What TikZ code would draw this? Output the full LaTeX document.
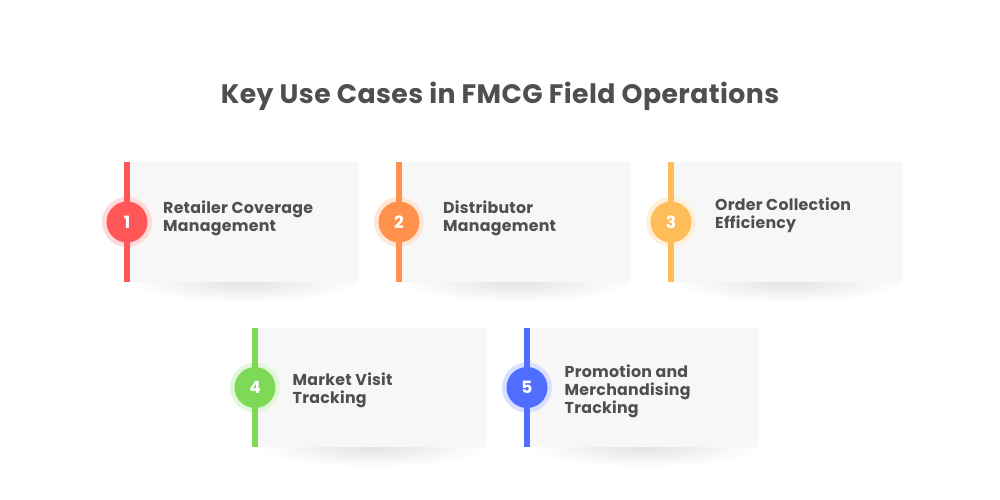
\documentclass[tikz,border=0pt]{standalone}
\usepackage{fontspec}
\setmainfont[LetterSpace=1.6]{Poppins}
\usetikzlibrary{fadings}
\definecolor{txt}{HTML}{4F4F4F}
\definecolor{cardbg}{HTML}{F7F7F7}
\definecolor{cA}{HTML}{FF5757}
\definecolor{cB}{HTML}{FF914D}
\definecolor{cC}{HTML}{FFBD59}
\definecolor{cD}{HTML}{7ED957}
\definecolor{cE}{HTML}{4F6EFF}
\tikzset{
  cardbox/.style={fill=cardbg,draw=none},
  barline/.style={fill=#1,draw=none},
  halo/.style={circle,fill=#1!22!white,draw=none,minimum size=50pt,inner sep=0pt},
  badge/.style={circle,fill=#1,draw=none,text=white,minimum size=41pt,inner sep=0pt,font=\fontsize{17}{17}\selectfont\bfseries},
  label/.style={anchor=west,text=txt,align=left,inner sep=0pt,font=\fontsize{15.8}{18}\selectfont\bfseries},
  heading/.style={text=txt,inner sep=0pt,font=\fontsize{26.7}{30}\selectfont\bfseries},
}
\tikzfading[name=softshadow,inner color=transparent!0,outer color=transparent!100]
\newcommand{\usecase}[7]{%
  % #1 name, #2 bar left x, #3 card right x, #4 top y, #5 bottom y, #6 colour, #7 number
  \pgfmathsetmacro{\midx}{(#2+#3)/2+4}
  \pgfmathsetmacro{\midy}{(#4+#5)/2}
  \begin{scope}
    \clip (#2,#5) rectangle (#3+10,#5+30);
    \fill[black,path fading=softshadow,opacity=.11] (\midx,#5) ellipse [x radius=114,y radius=20];
  \end{scope}
  \path[cardbox] (#2,#4) rectangle (#3,#5);
  \node[halo=#6] (#1h) at (#2+3,\midy) {};
  \path[barline=#6] (#2,#4) rectangle (#2+6,#5);
  \node[badge=#6] (#1) at (#2+3,\midy) {#7};
}
\begin{document}
\begin{tikzpicture}[x=1pt,y=-1pt]
\useasboundingbox (0,0) rectangle (1000,500);
\fill[white] (0,0) rectangle (1000,500);
\node[heading] (title) at (500,96.5) {Key Use Cases in FMCG Field Operations};
\usecase{a}{124}{358}{162}{282}{cA}{1}
\usecase{b}{396}{630}{162}{282}{cB}{2}
\usecase{c}{668}{902}{162}{282}{cC}{3}
\usecase{d}{252}{486}{328}{447}{cD}{4}
\usecase{e}{524}{758}{328}{447}{cE}{5}
\node[label] (at) at (163,218) {Retailer Coverage\\Management};
\node[label] (bt) at (443,218) {Distributor\\Management};
\node[label] (ct) at (715,215) {Order Collection\\Efficiency};
\node[label] (dt) at (292.5,390.5) {Market Visit\\Tracking};
\node[label] (et) at (564.5,391) {Promotion and\\Merchandising\\Tracking};
\end{tikzpicture}
\end{document}
